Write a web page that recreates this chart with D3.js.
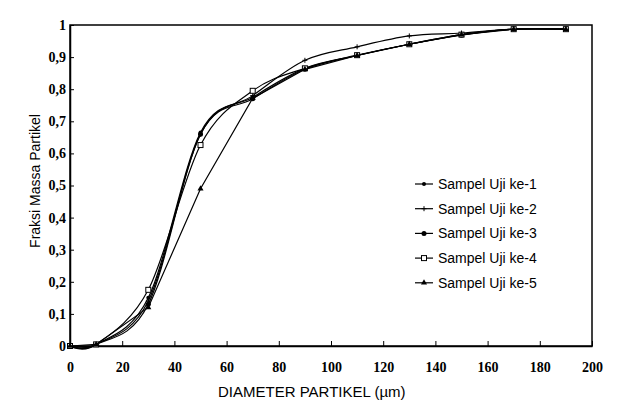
<!DOCTYPE html>
<html>
<head>
<meta charset="utf-8">
<script src="https://cdn.jsdelivr.net/npm/d3@7"></script>
<style>
  body { margin: 0; background: #fff; }
  svg { display: block; }
</style>
</head>
<body>
<div id="chart"></div>
<script>
// diameter values (um) where the samples were measured
const diameters = [0, 10, 30, 50, 70, 90, 110, 130, 150, 170, 190];

// mass fraction per sample
const sampel1 = [0, 0.005, 0.15, 0.665, 0.775, 0.865, 0.905, 0.94, 0.97, 0.987, 0.987];
const sampel2 = [0, 0.005, 0.14, 0.66, 0.78, 0.89, 0.932, 0.966, 0.975, 0.987, 0.987];
const sampel3 = [0, 0.005, 0.13, 0.66, 0.77, 0.862, 0.905, 0.94, 0.968, 0.987, 0.987];
const sampel4 = [0, 0.005, 0.175, 0.626, 0.795, 0.865, 0.906, 0.94, 0.97, 0.987, 0.987];
const sampel5 = [0, 0.005, 0.12, 0.49, 0.772, 0.862, 0.905, 0.94, 0.97, 0.987, 0.987];

const seriesNames = ["Sampel Uji ke-1", "Sampel Uji ke-2", "Sampel Uji ke-3", "Sampel Uji ke-4", "Sampel Uji ke-5"];
const seriesMarkers = ["dot", "plus", "circle", "square", "triangle"];

const xTicks = [0, 20, 40, 60, 80, 100, 120, 140, 160, 180, 200];
const yTicks = [0, 0.1, 0.2, 0.3, 0.4, 0.5, 0.6, 0.7, 0.8, 0.9, 1];

const width = 621;
const height = 410;
const margin = {top: 25, right: 29, bottom: 64, left: 70};

const svg = d3.select("#chart")
    .append("svg")
    .attr("width", width)
    .attr("height", height);

const x = d3.scaleLinear()
    .domain([0, 200])
    .range([margin.left, width - margin.right]);

const y = d3.scaleLinear()
    .domain([0, 1])
    .range([height - margin.bottom, margin.top]);

const tickFont = "'Liberation Serif', 'Times New Roman', serif";
const labelFont = "'Liberation Sans', Arial, sans-serif";

// plot frame
svg.append("rect")
    .attr("x", x(0))
    .attr("y", y(1))
    .attr("width", x(200) - x(0))
    .attr("height", y(0) - y(1))
    .attr("fill", "none")
    .attr("stroke", "#000")
    .attr("stroke-width", 1.5);

// x axis, ticks pointing inward
const xAxis = svg.append("g")
    .attr("transform", `translate(0,${y(0)})`)
    .call(d3.axisBottom(x).tickValues(xTicks).tickSizeInner(-5).tickSizeOuter(0).tickPadding(16));
xAxis.select(".domain").attr("stroke-width", 1.5);
xAxis.selectAll("text")
    .attr("font-family", tickFont)
    .attr("font-weight", "bold")
    .attr("font-size", 14)
    .attr("fill", "#000");

// y axis
const yAxis = svg.append("g")
    .attr("transform", `translate(${x(0)},0)`)
    .call(d3.axisLeft(y).tickValues(yTicks).tickSizeInner(-4).tickSizeOuter(0).tickPadding(4)
        .tickFormat(d => d3.format(".1~f")(d).replace(".", ",")));
yAxis.select(".domain").attr("stroke-width", 1.5);
yAxis.selectAll("text")
    .attr("font-family", tickFont)
    .attr("font-weight", "bold")
    .attr("font-size", 14)
    .attr("fill", "#000");

// axis titles
svg.append("text")
    .attr("x", 218)
    .attr("y", 397)
    .attr("text-anchor", "start")
    .attr("font-family", labelFont)
    .attr("font-size", 15)
    .text("DIAMETER PARTIKEL (\u00b5m)");

svg.append("text")
    .attr("transform", "translate(40,181) rotate(-90)")
    .attr("text-anchor", "middle")
    .attr("font-family", labelFont)
    .attr("font-size", 14)
    .text("Fraksi Massa Partikel");

const series = [sampel1, sampel2, sampel3, sampel4, sampel5];

const smooth = d3.line()
    .x((d, i) => x(diameters[i]))
    .y(d => y(d))
    .curve(d3.curveCardinal.tension(0));

// sample 5 is drawn with straight segments
const straight = d3.line()
    .x((d, i) => x(diameters[i]))
    .y(d => y(d));

/**
 * Draws one marker shape at (cx, cy).
 */
function drawMarker(g, kind, cx, cy) {
    if (kind === "dot") {
        g.append("circle").attr("cx", cx).attr("cy", cy).attr("r", 2).attr("fill", "#000");
    } else if (kind === "plus") {
        g.append("path")
            .attr("d", `M${cx - 2.5},${cy}H${cx + 2.5}M${cx},${cy - 2.5}V${cy + 2.5}`)
            .attr("stroke", "#000").attr("stroke-width", 1);
    } else if (kind === "circle") {
        g.append("circle").attr("cx", cx).attr("cy", cy).attr("r", 2.5).attr("fill", "#000");
    } else if (kind === "square") {
        g.append("rect").attr("x", cx - 2.5).attr("y", cy - 2.5).attr("width", 5).attr("height", 5)
            .attr("fill", "#fff").attr("stroke", "#000").attr("stroke-width", 1);
    } else {
        g.append("path")
            .attr("d", d3.symbol(d3.symbolTriangle, 16)())
            .attr("transform", `translate(${cx},${cy})`)
            .attr("fill", "#000");
    }
}

series.forEach((values, k) => {
    const g = svg.append("g");
    g.append("path")
        .datum(values)
        .attr("d", k === 4 ? straight : smooth)
        .attr("fill", "none")
        .attr("stroke", "#000")
        .attr("stroke-width", 1.2);
    values.forEach((v, i) => drawMarker(g, seriesMarkers[k], x(diameters[i]), y(v)));
});

// legend
const legend = svg.append("g").attr("transform", "translate(415,184)");
seriesNames.forEach((name, k) => {
    const row = legend.append("g").attr("transform", `translate(0,${k * 24.7})`);
    row.append("line")
        .attr("x1", 0).attr("x2", 18)
        .attr("stroke", "#000").attr("stroke-width", 1.2);
    drawMarker(row, seriesMarkers[k], 9, 0);
    row.append("text")
        .attr("x", 23)
        .attr("y", 5)
        .attr("font-family", labelFont)
        .attr("font-size", 14)
        .text(name);
});
</script>
</body>
</html>
